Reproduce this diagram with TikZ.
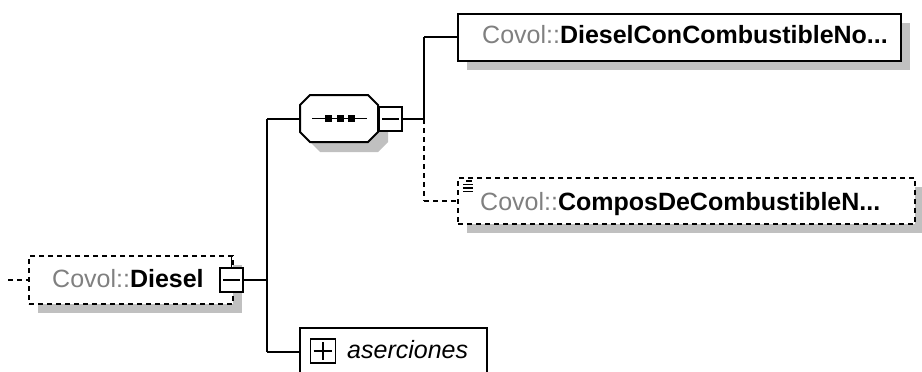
\documentclass[tikz,border=0pt]{standalone}
\usepackage{fontspec}
\setmainfont{Liberation Sans}
\usetikzlibrary{shadows}
\definecolor{shadowgrey}{RGB}{192,192,192}
\definecolor{nsgrey}{RGB}{128,128,128}
\tikzset{
  box/.style={draw, line width=2pt, fill=white, inner sep=0pt, rectangle},
  shbox/.style={box, drop shadow={shadow xshift=9pt, shadow yshift=-9pt, fill=shadowgrey, opacity=1}},
  dashln/.style={dash pattern=on 5pt off 4pt},
  conn/.style={line width=2pt},
  lbl/.style={anchor=base west, inner sep=0pt, font=\fontsize{25}{30}\selectfont},
}
\newcommand{\nsp}{\textcolor{nsgrey}{Covol::}}
\begin{document}
\begin{tikzpicture}[x=1pt,y=-1pt]
\useasboundingbox (0,0) rectangle (922,372);
% diesel element
\node[shbox, dashln, minimum width=204pt, minimum height=48pt] (diesel) at (131,280) {};
\node[lbl] (dieselT) at (52,287) {\nsp\textbf{Diesel}};
\node[box, minimum width=23pt, minimum height=24pt] (dmin) at (231.5,280) {};
\draw[line width=1.6pt] ([xshift=4pt]dmin.west) -- ([xshift=-4pt]dmin.east);
\draw[line width=1.6pt] (dmin.north) -- (dmin.north |- diesel.north);
\coordinate (in) at (8,280);
\draw[conn, dashln] (in) -- (diesel.west);
% trunk
\coordinate (t1) at (267,118.5);
\coordinate (t2) at (267,352);
\draw[conn] (dmin.east) -- (dmin.east -| t1);
\draw[conn] (t1) -- (t2);
% sequence compositor
\node[minimum width=78pt, minimum height=47pt, inner sep=0pt] (seq) at (339,118.5) {};
\fill[shadowgrey] (320,105) -- (378,105) -- (388,115) -- (388,142) -- (378,152) -- (320,152) -- (310,142) -- (310,115) -- cycle;
\draw[conn, fill=white] (310,95) -- (368,95) -- (378,105) -- (378,132) -- (368,142) -- (310,142) -- (300,132) -- (300,105) -- cycle;
\draw[line width=1.6pt] (312,118.5) -- (367,118.5);
\foreach \xx in {328,340,351} \fill (\xx-3.5,115) rectangle (\xx+3.5,122);
\draw[conn] (t1) -- (seq.west);
\node[box, minimum width=23pt, minimum height=24pt] (smin) at (390.5,119) {};
\draw[line width=1.6pt] ([xshift=4pt]smin.west) -- ([xshift=-4pt]smin.east);
% second trunk
\coordinate (u0) at (424,37);
\coordinate (u1) at (424,119);
\coordinate (u2) at (424,201);
\draw[conn] (smin.east) -- (u1);
\draw[conn] (u0) -- (u1);
\draw[conn, dashln] (u1) -- (u2);
% element 1
\node[shbox, minimum width=443pt, minimum height=47pt] (el1) at (679.5,37) {};
\node[lbl] (el1T) at (482,43) {\nsp\textbf{DieselConCombustibleNo...}};
\draw[conn] (u0) -- (el1.west);
% element 2
\node[shbox, dashln, minimum width=457pt, minimum height=46pt] (el2) at (686.5,201) {};
\node[lbl] (el2T) at (480,210) {\nsp\textbf{ComposDeCombustibleN...}};
\draw[line width=1.5pt] (466,181) -- (472,181);
\foreach \yy in {184.5,188,191.5} \draw[line width=1.5pt] (463,\yy) -- (473,\yy);
\draw[conn, dashln] (u2) -- (el2.west);
% aserciones
\node[box, minimum width=187pt, minimum height=60pt] (aser) at (393.5,358) {};
\draw[conn] (t2) -- (t2 -| aser.west);
\node[box, line width=1.6pt, minimum width=25pt, minimum height=24pt] (aplus) at (323,351) {};
\draw[line width=1.6pt] ([xshift=4pt]aplus.west) -- ([xshift=-4pt]aplus.east);
\draw[line width=1.6pt] ([yshift=-4pt]aplus.north) -- ([yshift=4pt]aplus.south);
\node[lbl, font=\fontsize{25}{30}\selectfont\itshape] (aserT) at (347,358) {aserciones};
\end{tikzpicture}
\end{document}
